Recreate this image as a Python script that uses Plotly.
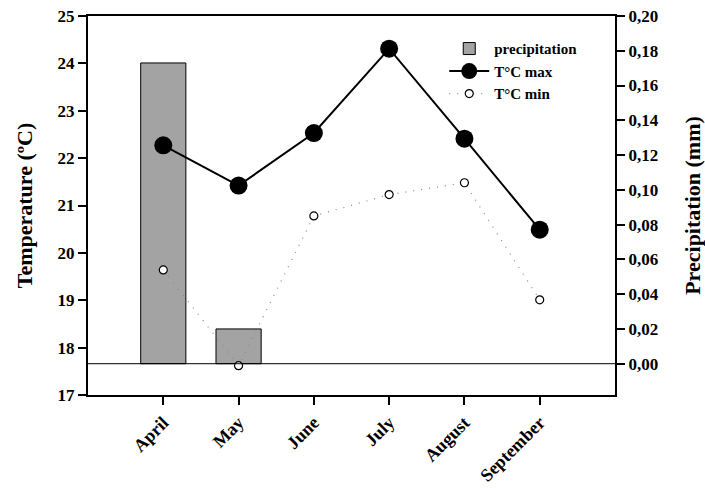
import plotly.graph_objects as go

months = ["April", "May", "June", "July", "August", "September"]
precipitation = [0.173, 0.020, None, None, None, None]
t_max = [22.27, 21.42, 22.53, 24.31, 22.41, 20.49]
t_min = [19.64, 17.62, 20.78, 21.23, 21.48, 19.01]

serif = "Liberation Serif"
tick_font = dict(family=serif, size=17, color="black", weight="bold")
xtick_font = dict(family=serif, size=18, color="black", weight="bold")
title_font = dict(family=serif, size=22, color="black", weight="bold")

fig = go.Figure()

# precipitation bars on the base axis (drawn beneath the temperature lines)
fig.add_trace(go.Bar(
    x=months, y=precipitation, name="precipitation", yaxis="y",
    width=0.6, marker=dict(color="#a3a3a3", line=dict(color="black", width=1)),
))
fig.add_trace(go.Scatter(
    x=months, y=t_max, name="T°C max", yaxis="y2", mode="lines+markers",
    line=dict(color="black", width=2),
    marker=dict(color="black", size=18),
))
fig.add_trace(go.Scatter(
    x=months, y=t_min, name="T°C min", yaxis="y2", mode="lines+markers",
    line=dict(color="#8a8a8a", width=1.2, dash="1px,7px"),
    marker=dict(color="white", size=8, line=dict(color="black", width=1.2)),
))

# zero line of the precipitation scale
fig.add_shape(type="line", xref="paper", x0=0, x1=1, yref="y", y0=0, y1=0,
              line=dict(color="black", width=1))

axis_common = dict(
    showline=True, linecolor="black", linewidth=2,
    ticks="outside", ticklen=8, tickwidth=2, tickcolor="black",
    showgrid=False, zeroline=False, automargin=False,
)

fig.update_layout(
    width=705, height=488,
    margin=dict(l=88, r=90, t=16, b=93),
    paper_bgcolor="white", plot_bgcolor="white",
    separators=",.",
    showlegend=True,
    xaxis=dict(
        type="category", range=[-1, 6], tickangle=-45, mirror=True,
        tickfont=xtick_font, **axis_common,
    ),
    yaxis=dict(
        side="right", range=[-0.018, 0.2], tickvals=[i / 50 for i in range(11)],
        tickformat=".2f", tickfont=tick_font,
        title=dict(text="Precipitation (mm)", font=title_font, standoff=27),
        **axis_common,
    ),
    yaxis2=dict(
        side="left", overlaying="y", range=[17, 25], dtick=1, tickfont=tick_font,
        title=dict(text="Temperature (ºC)", font=title_font, standoff=19),
        **axis_common,
    ),
    legend=dict(
        x=0.676, y=0.957, xanchor="left", yanchor="top",
        bgcolor="rgba(0,0,0,0)", itemwidth=40,
        font=dict(family=serif, size=15, color="black", weight="bold"),
        tracegroupgap=0,
    ),
    font=dict(family=serif, color="black"),
)

fig.write_html("out.html")
